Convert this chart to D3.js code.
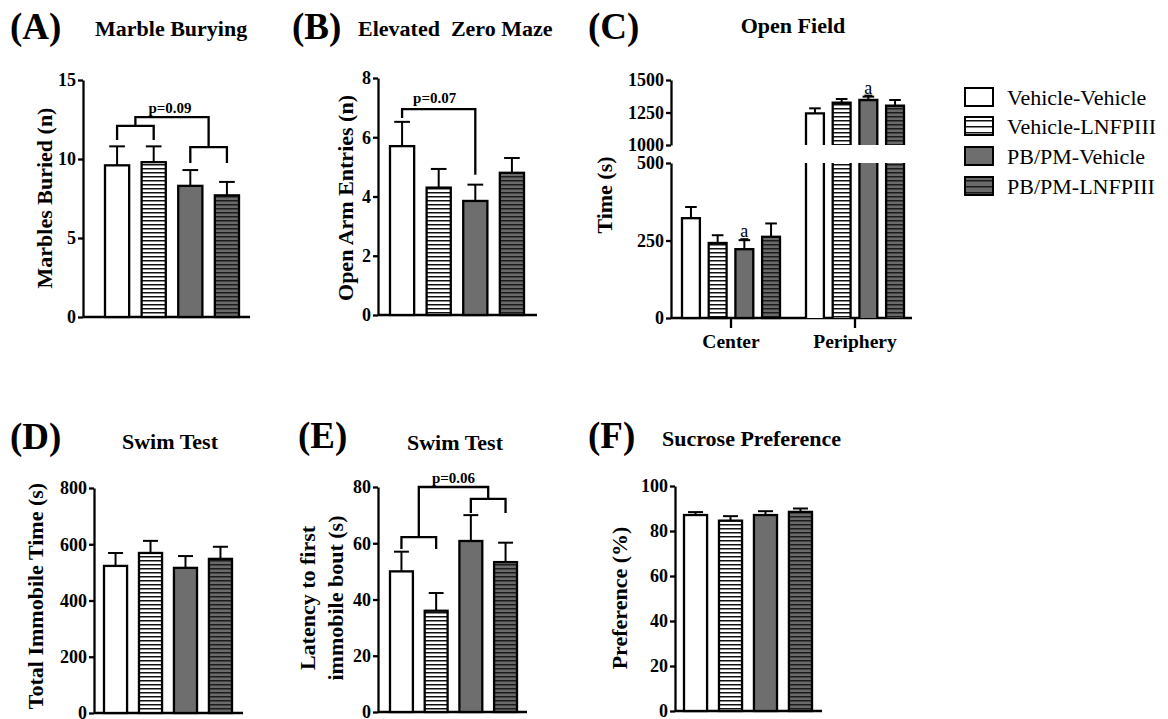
<!DOCTYPE html>
<html>
<head>
<meta charset="UTF-8">
<title>Behavior panels</title>
<script src="https://d3js.org/d3.v7.min.js"></script>
<style>
  body { margin: 0; background: #fff; }
  svg { display: block; font-family: "Liberation Serif", "Times New Roman", serif; }
  .axis path, .axis line { stroke: #000; stroke-width: 2.3px; }
  .axis text { font-family: "Liberation Serif", "Times New Roman", serif; font-size: 18px; font-weight: bold; fill: #000; }
  .lbl { font-weight: bold; fill: #000; }
</style>
</head>
<body>
<svg id="fig" width="1168" height="719"></svg>
<script>
// groups
const groups = ["Vehicle-Vehicle", "Vehicle-LNFPIII", "PB/PM-Vehicle", "PB/PM-LNFPIII"];

// (A) marble burying
const marbleMean = [9.6, 9.8, 8.3, 7.7];
const marbleSem = [1.2, 1.0, 1.0, 0.85];
const marbleTicks = [0, 5, 10, 15];

// (B) elevated zero maze
const ezmMean = [5.7, 4.3, 3.85, 4.8];
const ezmSem = [0.82, 0.63, 0.55, 0.5];
const ezmTicks = [0, 2, 4, 6, 8];

// (C) open field
const ofZones = ["Center", "Periphery"];
const centerMean = [322, 242, 222, 262];
const centerSem = [36, 25, 29, 43];
const periphMean = [1244, 1325, 1346, 1302];
const periphSem = [38, 29, 26, 44];
const ofLowTicks = [0, 250, 500];
const ofHighTicks = [1000, 1250, 1500];

// (D) swim test, total immobile
const swimMean = [523, 569, 516, 548];
const swimSem = [46, 43, 42, 43];
const swimTicks = [0, 200, 400, 600, 800];

// (E) swim test, latency
const latMean = [50, 36, 60.8, 53.3];
const latSem = [7, 6.3, 9.2, 6.9];
const latTicks = [0, 20, 40, 60, 80];

// (F) sucrose preference
const sucMean = [87.1, 84.6, 87.1, 88.5];
const sucSem = [1.3, 2.0, 1.7, 1.5];
const sucTicks = [0, 20, 40, 60, 80, 100];

const svg = d3.select('#fig');
const defs = svg.append('defs');

function stripes(id, bg, fg, step) {
    const p = defs.append('pattern').attr('id', id)
        .attr('patternUnits', 'userSpaceOnUse')
        .attr('width', 8).attr('height', step);
    p.append('rect').attr('width', 8).attr('height', step).attr('fill', bg);
    p.append('rect').attr('y', 0).attr('width', 8).attr('height', 1.5).attr('fill', fg);
}
stripes('stW', '#fff', '#111', 4);
stripes('stD', '#6a6a6a', '#1c1c1c', 4);
stripes('stWL', '#fff', '#111', 6);
stripes('stDL', '#6a6a6a', '#1c1c1c', 6);

const fills = ['#fff', 'url(#stW)', '#6e6e6e', 'url(#stD)'];
const legendFills = ['#fff', 'url(#stWL)', '#6e6e6e', 'url(#stDL)'];

function txt(x, y, s, size, opts) {
    opts = opts || {};
    const t = svg.append('text')
        .attr('class', opts.normal ? null : 'lbl')
        .attr('x', x).attr('y', y)
        .attr('font-size', size)
        .attr('text-anchor', opts.anchor || 'start')
        .attr('fill', '#000')
        .text(s);
    if (opts.rot) t.attr('transform', `rotate(-90,${x},${y})`);
    return t;
}

function yAxis(g, ax, y, ticks) {
    g.append('g').attr('class', 'axis')
        .attr('transform', `translate(${ax},0)`)
        .call(d3.axisLeft(y).tickValues(ticks).tickFormat(d3.format('d'))
            .tickSize(5).tickSizeOuter(0).tickPadding(2));
}

function errBars(g, xc, w, y, mean, sem) {
    mean.forEach((m, i) => {
        g.append('line').attr('x1', xc(i)).attr('x2', xc(i))
            .attr('y1', y(m)).attr('y2', y(m + sem[i]))
            .attr('stroke', '#000').attr('stroke-width', 2);
        g.append('line').attr('x1', xc(i) - w / 2).attr('x2', xc(i) + w / 2)
            .attr('y1', y(m + sem[i])).attr('y2', y(m + sem[i]))
            .attr('stroke', '#000').attr('stroke-width', 2);
    });
}

function barPanel(p) {
    const y = d3.scaleLinear().domain([0, p.max]).range([p.y0, p.yTop]);
    const x = d3.scaleBand().domain(groups).range(p.bars).paddingInner(0.34);
    const g = svg.append('g');
    yAxis(g, p.axisX, y, p.ticks);
    g.append('line').attr('x1', p.axisX).attr('x2', p.xEnd)
        .attr('y1', p.y0).attr('y2', p.y0)
        .attr('stroke', '#000').attr('stroke-width', 2.3);
    g.selectAll('.bar').data(p.mean).enter().append('rect')
        .attr('x', (d, i) => x(groups[i]))
        .attr('y', d => y(d))
        .attr('width', x.bandwidth())
        .attr('height', d => p.y0 - y(d))
        .attr('fill', (d, i) => fills[i])
        .attr('stroke', '#000').attr('stroke-width', 2.3);
    const xc = i => x(groups[i]) + x.bandwidth() / 2;
    errBars(g, xc, x.bandwidth() * 0.65, y, p.mean, p.sem);
    return { g, x, y, xc };
}

function path(g, d) {
    g.append('path').attr('d', d).attr('fill', 'none')
        .attr('stroke', '#000').attr('stroke-width', 2.3);
}

// pair bracket from bar i to bar j at level lv, legs down to li / lj
function bracket(P, i, j, lv, li, lj) {
    const { g, y, xc } = P;
    path(g, `M${xc(i)},${y(li)}V${y(lv)}H${xc(j)}V${y(lj)}`);
    return (xc(i) + xc(j)) / 2;
}

// ---------- (A)
const A = barPanel({ axisX: 83, xEnd: 250, y0: 317, yTop: 80, max: 15, bars: [105, 239],
    ticks: marbleTicks, mean: marbleMean, sem: marbleSem });
const aL = bracket(A, 0, 1, 12.1, 11.2, 11.2);
const aR = bracket(A, 2, 3, 10.75, 9.75, 9.75);
path(A.g, `M${aL},${A.y(12.1)}V${A.y(12.65)}H${aR}V${A.y(10.75)}`);
txt((aL + aR) / 2 - 2, 113, 'p=0.09', 15, { anchor: 'middle' });
txt(10, 39, '(A)', 37);
txt(95, 36, 'Marble Burying', 22);
txt(52, 198, 'Marbles Buried (n)', 22, { rot: true, anchor: 'middle' });

// ---------- (B)
const B = barPanel({ axisX: 378, xEnd: 537, y0: 315, yTop: 78, max: 8, bars: [390, 524],
    ticks: ezmTicks, mean: ezmMean, sem: ezmSem });
const bM = bracket(B, 0, 2, 6.95, 6.65, 4.73);
txt(bM - 4, 103, 'p=0.07', 15, { anchor: 'middle' });
txt(292, 39, '(B)', 37);
txt(358, 36, 'Elevated  Zero Maze', 22).style('white-space', 'pre');
txt(353, 198, 'Open Arm Entries (n)', 22, { rot: true, anchor: 'middle' });

// ---------- (C) broken axis
(function () {
    const g = svg.append('g');
    const ax = 671, y0 = 318;
    const yLo = d3.scaleLinear().domain([0, 500]).range([y0, 163]);
    const yHi = d3.scaleLinear().domain([1000, 1500]).range([145, 80]);
    yAxis(g, ax, yLo, ofLowTicks);
    yAxis(g, ax, yHi, ofHighTicks);
    const xo = d3.scaleBand().domain(ofZones).range([669, 917]);
    const xi = d3.scaleBand().domain(groups).range([13, 111]).paddingInner(0.33);
    const bw = xi.bandwidth();
    // baseline and category ticks
    g.append('line').attr('x1', ax).attr('x2', 912).attr('y1', y0).attr('y2', y0)
        .attr('stroke', '#000').attr('stroke-width', 2.3);
    ofZones.forEach(z => {
        const cx = xo(z) + xo.bandwidth() / 2;
        g.append('line').attr('x1', cx).attr('x2', cx).attr('y1', y0).attr('y2', y0 + 10)
            .attr('stroke', '#000').attr('stroke-width', 2.3);
        txt(cx, 348, z, 19.5, { anchor: 'middle' });
    });
    const bx = (z, i) => xo(z) + xi(groups[i]);
    // center bars
    centerMean.forEach((m, i) => {
        g.append('rect').attr('x', bx('Center', i)).attr('y', yLo(m))
            .attr('width', bw).attr('height', y0 - yLo(m))
            .attr('fill', fills[i]).attr('stroke', '#000').attr('stroke-width', 2.3);
    });
    errBars(g, i => bx('Center', i) + bw / 2, bw * 0.65, yLo, centerMean, centerSem);
    // periphery bars, drawn in both segments
    periphMean.forEach((m, i) => {
        const x0 = bx('Periphery', i);
        g.append('rect').attr('x', x0).attr('y', yLo(500)).attr('width', bw)
            .attr('height', y0 - yLo(500)).attr('fill', fills[i]);
        g.append('rect').attr('x', x0).attr('y', yHi(m)).attr('width', bw)
            .attr('height', yHi(1000) - yHi(m)).attr('fill', fills[i]);
        path(g, `M${x0},${y0}V${yLo(500)}M${x0 + bw},${yLo(500)}V${y0}`);
        path(g, `M${x0},${yHi(1000)}V${yHi(m)}H${x0 + bw}V${yHi(1000)}`);
    });
    errBars(g, i => bx('Periphery', i) + bw / 2, bw * 0.65, yHi, periphMean, periphSem);
    // significance marks
    const ac = bx('Center', 2) + bw / 2;
    txt(ac, yLo(centerMean[2] + centerSem[2]) - 3, 'a', 18, { anchor: 'middle', normal: true })
        .attr('text-decoration', 'underline');
    const ap = bx('Periphery', 2) + bw / 2;
    txt(ap, yHi(periphMean[2] + periphSem[2]) - 3, 'a', 18, { anchor: 'middle', normal: true })
        .attr('text-decoration', 'underline');
})();
txt(588, 39, '(C)', 37);
txt(793, 33, 'Open Field', 22, { anchor: 'middle' });
txt(612, 195, 'Time (s)', 22, { rot: true, anchor: 'middle' });

// ---------- legend
groups.forEach((gname, i) => {
    const top = [88, 117, 147, 177][i];
    svg.append('rect').attr('x', 965).attr('y', top).attr('width', 28).attr('height', 18)
        .attr('fill', legendFills[i]).attr('stroke', '#000').attr('stroke-width', 2);
    txt(1007, top + 17, gname, 22, { normal: true });
});

// ---------- (D)
barPanel({ axisX: 94, xEnd: 243, y0: 713, yTop: 488, max: 800, bars: [104, 232],
    ticks: swimTicks, mean: swimMean, sem: swimSem });
txt(10, 449, '(D)', 37);
txt(122, 449, 'Swim Test', 22);
txt(43, 596, 'Total Immobile Time (s)', 22, { rot: true, anchor: 'middle' });

// ---------- (E)
const E = barPanel({ axisX: 378, xEnd: 527, y0: 712, yTop: 487, max: 80, bars: [390, 517],
    ticks: latTicks, mean: latMean, sem: latSem });
const eL = bracket(E, 0, 1, 62.2, 58, 58);
const eR = bracket(E, 2, 3, 75.8, 70.8, 70.8);
path(E.g, `M${eL},${E.y(62.2)}V${E.y(80)}H${eR}V${E.y(75.8)}`);
txt((eL + eR) / 2, 483, 'p=0.06', 15, { anchor: 'middle' });
txt(298, 448, '(E)', 37);
txt(407, 450, 'Swim Test', 22);
txt(315, 598, 'Latency to first', 22, { rot: true, anchor: 'middle' });
txt(343, 598, 'immobile bout (s)', 22, { rot: true, anchor: 'middle' });

// ---------- (F)
barPanel({ axisX: 675, xEnd: 822, y0: 711, yTop: 486, max: 100, bars: [684, 812],
    ticks: sucTicks, mean: sucMean, sem: sucSem });
txt(588, 448, '(F)', 37);
txt(662, 446, 'Sucrose Preference', 22);
txt(627, 598, 'Preference (%)', 22, { rot: true, anchor: 'middle' });
</script>
</body>
</html>
